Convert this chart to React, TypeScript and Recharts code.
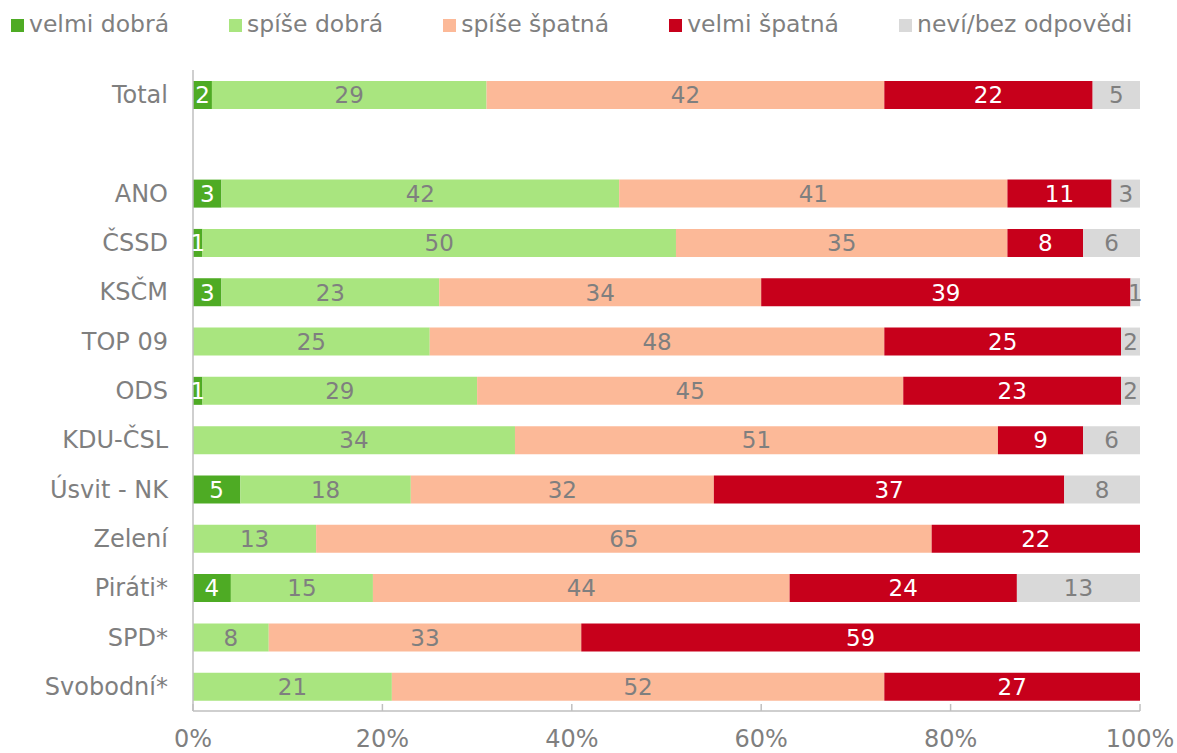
import React from 'react';
import { BarChart, Bar, XAxis, YAxis, Legend, LabelList } from 'recharts';

// categories top to bottom (blank row after Total)
const categories = ['Total', ' ', 'ANO', 'ČSSD', 'KSČM', 'TOP 09', 'ODS', 'KDU-ČSL', 'Úsvit - NK', 'Zelení', 'Piráti*', 'SPD*', 'Svobodní*'];

const velmiDobra = [2, null, 3, 1, 3, 0, 1, 0, 5, 0, 4, 0, 0];
const spiseDobra = [29, null, 42, 50, 23, 25, 29, 34, 18, 13, 15, 8, 21];
const spiseSpatna = [42, null, 41, 35, 34, 48, 45, 51, 32, 65, 44, 33, 52];
const velmiSpatna = [22, null, 11, 8, 39, 25, 23, 9, 37, 22, 24, 59, 27];
const nevi = [5, null, 3, 6, 1, 2, 2, 6, 8, 0, 13, 0, 0];

const xTicks = [0, 20, 40, 60, 80, 100];

const series = [
  { key: 'vd', name: 'velmi dobrá', values: velmiDobra, color: '#4eab24', label: '#ffffff' },
  { key: 'sd', name: 'spíše dobrá', values: spiseDobra, color: '#a9e57f', label: '#7f7f7f' },
  { key: 'ss', name: 'spíše špatná', values: spiseSpatna, color: '#fcb998', label: '#7f7f7f' },
  { key: 'vs', name: 'velmi špatná', values: velmiSpatna, color: '#c7001b', label: '#ffffff' },
  { key: 'nv', name: 'neví/bez odpovědi', values: nevi, color: '#d9d9d9', label: '#7f7f7f' },
];

const data = categories.map((name, i) => {
  const row: any = { name };
  series.forEach(s => { row[s.key] = s.values[i]; });
  return row;
});

const FONT = 'DejaVu Sans, Verdana, sans-serif';
const GREY = '#7f7f7f';

function makeLabel(color: string) {
  return (props: any) => {
    const { x, y, width, height, value } = props;
    if (!value) return null;
    return (
      <text x={x + width / 2} y={y + height / 2} dy="0.36em" textAnchor="middle"
        fill={color} fontSize={23} fontFamily={FONT}>
        {value}
      </text>
    );
  };
}

function LegendContent() {
  return (
    <div style={{ display: 'flex', alignItems: 'center', height: 50, paddingLeft: 11, fontFamily: FONT, fontSize: 23.5, lineHeight: 1, color: GREY }}>
      {series.map(s => (
        <div key={s.key} style={{ display: 'flex', alignItems: 'center', marginRight: 60 }}>
          <span style={{ width: 13, height: 13, background: s.color, marginRight: 5, display: 'inline-block' }} />
          <span style={{ whiteSpace: 'nowrap' }}>{s.name}</span>
        </div>
      ))}
    </div>
  );
}

export default function App() {
  return (
    <div>
      <style>{'body{margin:0}'}</style>
      <BarChart width={1177} height={753} data={data} layout="vertical"
        margin={{ top: 70, right: 37, bottom: 0, left: 0 }}>
        <XAxis type="number" domain={[0, 100]} ticks={xTicks} allowDataOverflow
          tickFormatter={(v: number) => `${v}%`} height={42}
          axisLine={{ stroke: '#bfbfbf', strokeWidth: 1.5 }}
          tickLine={{ stroke: '#bfbfbf', strokeWidth: 1.5 }} tickSize={-7} tickMargin={26}
          tick={{ fill: GREY, fontSize: 24, fontFamily: FONT }} />
        <YAxis type="category" dataKey="name" width={193}
          axisLine={{ stroke: '#bfbfbf', strokeWidth: 1.5 }} tickLine={false} tickSize={0} tickMargin={25}
          tick={{ fill: GREY, fontSize: 24, fontFamily: FONT }} interval={0} />
        <Legend verticalAlign="middle" align="center" layout="horizontal"
          wrapperStyle={{ top: 0, left: 0, width: 1177 }} content={<LegendContent />} />
        {series.map(s => (
          <Bar key={s.key} dataKey={s.key} name={s.name} stackId="a" fill={s.color}
            barSize={28} isAnimationActive={false}>
            <LabelList dataKey={s.key} content={makeLabel(s.label)} />
          </Bar>
        ))}
      </BarChart>
    </div>
  );
}
